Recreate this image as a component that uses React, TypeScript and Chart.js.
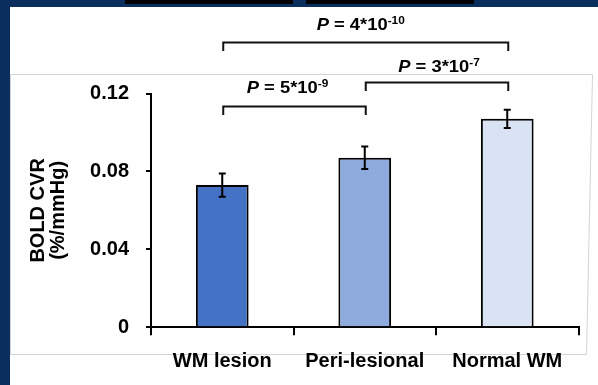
import React, { useEffect, useRef } from 'react';
import { Chart, registerables } from 'chart.js';

Chart.register(...registerables);

// ---------- data ----------
const categories = ['WM lesion', 'Peri-lesional', 'Normal WM'];
const cvrMeans = [0.073, 0.087, 0.107];
const cvrErrors = [0.006, 0.0058, 0.0047];
const barColors = ['#4472C4', '#8FAADC', '#DAE3F3'];
const yTickValues = [0, 0.04, 0.08, 0.12];
const yTickLabels = ['0', '0.04', '0.08', '0.12'];
const yTitleLines = ['BOLD CVR', '(%/mmHg)'];
const comparisonPairs = [
  [0, 1],
  [1, 2],
  [0, 2],
];
const pValueMantissa = ['5', '3', '4'];
const pValueExponent = ['-9', '-7', '-10'];
const bracketLevels = [0.1133, 0.1257, 0.1462]; // y-axis units

// ---------- layout / style ----------
const FONT = "'Liberation Sans', Arial, sans-serif";
const BG = '#0A2F5F';
const labelLift = [13.4, 10, 12.7];
const labelShift = [-7, 2, -5];

const boxPlugin = {
  id: 'slideBox',
  beforeDraw(chart: any) {
    const ctx = chart.ctx;
    ctx.save();
    ctx.strokeStyle = '#D4D4D4';
    ctx.lineWidth = 1;
    ctx.beginPath();
    ctx.moveTo(10.5, 354.5);
    ctx.lineTo(10.5, 74.5);
    ctx.lineTo(592.5, 74.5);
    ctx.lineTo(586.5, 354.5);
    ctx.closePath();
    ctx.stroke();
    ctx.restore();
  },
};

const errorBarPlugin = {
  id: 'errorBars',
  afterDatasetsDraw(chart: any) {
    const ctx = chart.ctx;
    const y = chart.scales.y;
    const meta = chart.getDatasetMeta(0);
    ctx.save();
    ctx.strokeStyle = '#000';
    ctx.lineWidth = 2;
    meta.data.forEach((bar: any, i: number) => {
      const x = bar.x;
      const top = y.getPixelForValue(cvrMeans[i] + cvrErrors[i]);
      const bot = y.getPixelForValue(cvrMeans[i] - cvrErrors[i]);
      ctx.beginPath();
      ctx.moveTo(x, top);
      ctx.lineTo(x, bot);
      ctx.moveTo(x - 3.5, top);
      ctx.lineTo(x + 3.5, top);
      ctx.moveTo(x - 3.5, bot);
      ctx.lineTo(x + 3.5, bot);
      ctx.stroke();
    });
    ctx.restore();
  },
};

function drawP(ctx: CanvasRenderingContext2D, cx: number, baseline: number, mant: string, exp: string) {
  const fIt = `italic bold 17px ${FONT}`;
  const fMain = `bold 17px ${FONT}`;
  const fSup = `bold 11px ${FONT}`;
  const main = ` = ${mant}*10`;
  ctx.font = fIt;
  const wP = ctx.measureText('P').width;
  ctx.font = fMain;
  const wM = ctx.measureText(main).width;
  ctx.font = fSup;
  const wS = ctx.measureText(exp).width;
  const total = wP + wM + wS;
  ctx.save();
  ctx.translate(cx, baseline);
  ctx.scale(1.08, 1);
  ctx.fillStyle = '#000';
  ctx.textAlign = 'left';
  ctx.textBaseline = 'alphabetic';
  let x = -total / 2;
  ctx.font = fIt;
  ctx.fillText('P', x, 0);
  x += wP;
  ctx.font = fMain;
  ctx.fillText(main, x, 0);
  x += wM;
  ctx.font = fSup;
  ctx.fillText(exp, x, -6);
  ctx.restore();
}

const annotationPlugin = {
  id: 'sigBrackets',
  afterDraw(chart: any) {
    const ctx = chart.ctx;
    const xs = chart.scales.x;
    const ys = chart.scales.y;
    ctx.save();
    ctx.strokeStyle = '#111';
    ctx.lineWidth = 2;
    comparisonPairs.forEach((pair, k) => {
      const x1 = xs.getPixelForValue(pair[0]) + 1;
      const x2 = xs.getPixelForValue(pair[1]) + 1;
      const yl = ys.getPixelForValue(bracketLevels[k]);
      ctx.beginPath();
      ctx.moveTo(x1, yl + 8.5);
      ctx.lineTo(x1, yl);
      ctx.lineTo(x2, yl);
      ctx.lineTo(x2, yl + 8.5);
      ctx.stroke();
      drawP(ctx, (x1 + x2) / 2 + labelShift[k], yl - labelLift[k], pValueMantissa[k], pValueExponent[k]);
    });
    ctx.restore();
  },
};

export default function App() {
  const canvasRef = useRef<HTMLCanvasElement | null>(null);

  useEffect(() => {
    document.body.style.margin = '0';
    const canvas = canvasRef.current;
    if (!canvas) return;
    const tickFont = { family: FONT, size: 20, weight: 'bold' as const };
    const chart = new Chart(canvas, {
      type: 'bar',
      data: {
        labels: categories,
        datasets: [
          {
            data: cvrMeans,
            backgroundColor: barColors,
            borderColor: '#000',
            borderWidth: 2,
            categoryPercentage: 1,
            barPercentage: 0.37,
          },
        ],
      },
      options: {
        responsive: false,
        animation: false,
        devicePixelRatio: 1,
        layout: { padding: { left: 0, top: 93.5, right: 19.5, bottom: 0 } },
        plugins: {
          legend: { display: false },
          tooltip: { enabled: false },
          title: { display: false },
        },
        scales: {
          x: {
            type: 'category',
            offset: true,
            grid: {
              display: true,
              offset: true,
              drawOnChartArea: false,
              drawTicks: true,
              tickLength: 8,
              color: '#000',
              lineWidth: 2,
            },
            border: { display: true, color: '#000', width: 2 },
            ticks: {
              color: '#000',
              font: tickFont,
              padding: 14,
              maxRotation: 0,
              autoSkip: false,
            },
            afterFit: (s: any) => {
              s.height = 57.7;
            },
          },
          y: {
            min: 0,
            max: 0.12,
            ticks: {
              stepSize: 0.04,
              color: '#000',
              font: tickFont,
              padding: 17,
              callback: (value: any) => {
                const idx = yTickValues.findIndex((v) => Math.abs(v - Number(value)) < 1e-9);
                return idx >= 0 ? yTickLabels[idx] : '';
              },
            },
            grid: {
              display: true,
              drawOnChartArea: false,
              drawTicks: true,
              tickLength: 5,
              color: '#000',
              lineWidth: 2,
            },
            border: { display: true, color: '#000', width: 2 },
            title: {
              display: true,
              text: yTitleLines,
              color: '#000',
              font: { family: FONT, size: 20, weight: 'bold', lineHeight: 0.975 },
              padding: { top: 29, bottom: 0 },
            },
            afterFit: (s: any) => {
              s.width = 151;
            },
          },
        },
      } as any,
      plugins: [boxPlugin, errorBarPlugin, annotationPlugin],
    });
    return () => chart.destroy();
  }, []);

  return (
    <div style={{ position: 'relative', width: 598, height: 385, background: BG, overflow: 'hidden' }}>
      <div style={{ position: 'absolute', left: 125, top: 0, width: 168, height: 4, background: '#000' }} />
      <div style={{ position: 'absolute', left: 306, top: 0, width: 168, height: 4, background: '#000' }} />
      <div style={{ position: 'absolute', left: 10, top: 7, width: 588, height: 378, background: '#fff' }} />
      <canvas
        ref={canvasRef}
        width={598}
        height={385}
        style={{ position: 'absolute', left: 0, top: 0, width: 598, height: 385 }}
      />
    </div>
  );
}
